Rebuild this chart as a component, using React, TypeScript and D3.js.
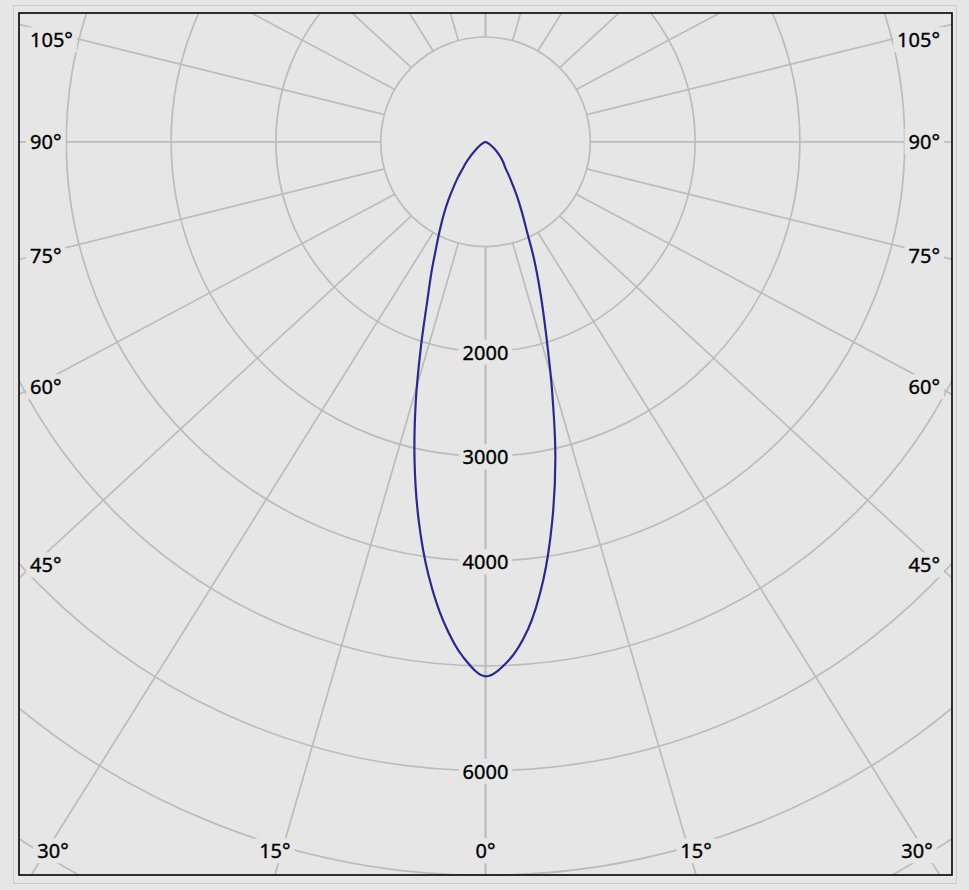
import { useEffect, useRef } from "react";
import * as d3 from "d3";

const width = 969;
const height = 890;

// Luminous intensity (cd) against angle from nadir
const angles = [0, 2.5, 5, 7.5, 10, 12.5, 15, 17.5, 20, 22.5, 25, 27.5, 30, 32.5, 35, 37.5, 40, 42.5, 45, 50, 55, 60, 70, 80, 90];
const leftCd = [5100, 4920, 4595, 4170, 3670, 3127, 2572, 2049, 1630, 1348, 1113, 939, 793, 660, 536, 440, 345, 284, 226, 130, 75, 40, 10, 0, 0];
const rightCd = [5100, 4958, 4666, 4220, 3670, 3080, 2452, 1920, 1530, 1210, 925, 748, 604, 476, 383, 308, 272, 236, 200, 130, 75, 40, 10, 0, 0];

// Grid
const ringValues = [1000, 2000, 3000, 4000, 5000, 6000, 7000, 8000];
const ringLabels = [2000, 3000, 4000, 6000];
const spokeAngles = [0, 15, 30, 45, 60, 75, 90, 105, 120, 135, 150, 165, 180];
const angleLabels = [0, 15, 30, 45, 60, 75, 90, 105];

export default function App() {
  const svgRef = useRef<SVGSVGElement>(null);

  useEffect(() => {
    if (!svgRef.current) return;
    const svg = d3.select(svgRef.current);
    svg.selectAll("*").remove();

    const frame = { x: 19, y: 13, w: 933, h: 862 };
    const cx = 485.5;
    const cy = 141.8;
    const k = 0.923; // spokes are drawn squashed toward the frame's aspect
    const bg = "#e6e6e6";
    const gridColor = "#bcbcbc";

    const r = d3.scaleLinear().domain([0, 1000]).range([0, 104.8]);

    // outer panel border
    svg.append("rect")
      .attr("x", 13.5).attr("y", 5.5)
      .attr("width", 943).attr("height", 878)
      .attr("fill", bg)
      .attr("stroke", "#cbcbcb");

    svg.append("defs").append("clipPath")
      .attr("id", "plot-clip")
      .append("rect")
      .attr("x", frame.x).attr("y", frame.y)
      .attr("width", frame.w).attr("height", frame.h);

    const g = svg.append("g").attr("clip-path", "url(#plot-clip)");

    // rings
    ringValues.forEach(v => {
      g.append("circle")
        .attr("cx", cx).attr("cy", cy)
        .attr("r", r(v))
        .attr("fill", "none")
        .attr("stroke", gridColor)
        .attr("stroke-width", 1.7);
    });

    // spokes, starting at the inner ring
    const r1 = r(ringValues[0]);
    const spokeStart = (phi: number, s: number) => {
      const a = (phi * Math.PI) / 180;
      return { x: cx + s * r1 * Math.sin(a), y: cy + r1 * Math.cos(a), dx: s * Math.sin(a), dy: k * Math.cos(a) };
    };

    [-1, 1].forEach(s => {
      spokeAngles.forEach(phi => {
        const p = spokeStart(phi, s);
        g.append("line")
          .attr("x1", p.x).attr("y1", p.y)
          .attr("x2", p.x + p.dx * 2000).attr("y2", p.y + p.dy * 2000)
          .attr("stroke", gridColor)
          .attr("stroke-width", 1.7);
      });
    });

    // intensity curve
    const pts: [number, number][] = [];
    for (let i = angles.length - 1; i >= 0; i--) {
      const a = (angles[i] * Math.PI) / 180;
      pts.push([cx + r(rightCd[i]) * Math.sin(a), cy + r(rightCd[i]) * Math.cos(a)]);
    }
    for (let i = 1; i < angles.length; i++) {
      const a = (angles[i] * Math.PI) / 180;
      pts.push([cx - r(leftCd[i]) * Math.sin(a), cy + r(leftCd[i]) * Math.cos(a)]);
    }
    g.append("path")
      .datum(pts)
      .attr("fill", "none")
      .attr("stroke", "#2b2a8c")
      .attr("stroke-width", 2.2)
      .attr("stroke-linejoin", "round")
      .attr("d", d3.line().curve(d3.curveCatmullRom.alpha(0.5)));

    // labels with a background box that hides the grid behind them
    const labelLayer = svg.append("g")
      .attr("font-family", "'Noto Sans', sans-serif")
      .attr("font-size", "20px")
      .attr("fill", "#000");

    const addLabel = (text: string, x: number, y: number, anchor: string) => {
      const t = labelLayer.append("text")
        .attr("x", x).attr("y", y)
        .attr("dy", "0.36em")
        .attr("text-anchor", anchor)
        .attr("stroke", "#000")
        .attr("stroke-width", 0.35)
        .text(text);
      const b = (t.node() as SVGTextElement).getBBox();
      labelLayer.insert("rect", () => t.node())
        .attr("x", b.x - 4).attr("y", b.y + 1)
        .attr("width", b.width + 8).attr("height", b.height - 2)
        .attr("fill", bg);
    };

    ringLabels.forEach(v => addLabel(String(v), cx, cy + r(v) + 1, "middle"));

    const left = frame.x + 14;
    const right = 2 * cx - left;
    const bottom = frame.y + frame.h;
    [-1, 1].forEach(s => {
      angleLabels.forEach(phi => {
        if (phi === 0 && s < 0) return;
        const p = spokeStart(phi, s);
        if (phi >= 45) {
          const xEdge = s < 0 ? left : right;
          const t = (xEdge - p.x) / p.dx;
          const y = Math.max(40, p.y + t * p.dy);
          addLabel(`${phi}°`, s < 0 ? 30 : 940, y, s < 0 ? "start" : "end");
        } else {
          const t = (bottom - p.y) / p.dy;
          const x = Math.min(917, Math.max(53, p.x + t * p.dx));
          addLabel(`${phi}°`, x, 851, "middle");
        }
      });
    });

    // frame
    svg.append("rect")
      .attr("x", frame.x).attr("y", frame.y)
      .attr("width", frame.w).attr("height", frame.h)
      .attr("fill", "none")
      .attr("stroke", "#000")
      .attr("stroke-width", 1.6);
  }, []);

  return (
    <svg
      ref={svgRef}
      width={width}
      height={height}
      style={{ position: "absolute", left: 0, top: 0, background: "#e6e6e6" }}
    />
  );
}
